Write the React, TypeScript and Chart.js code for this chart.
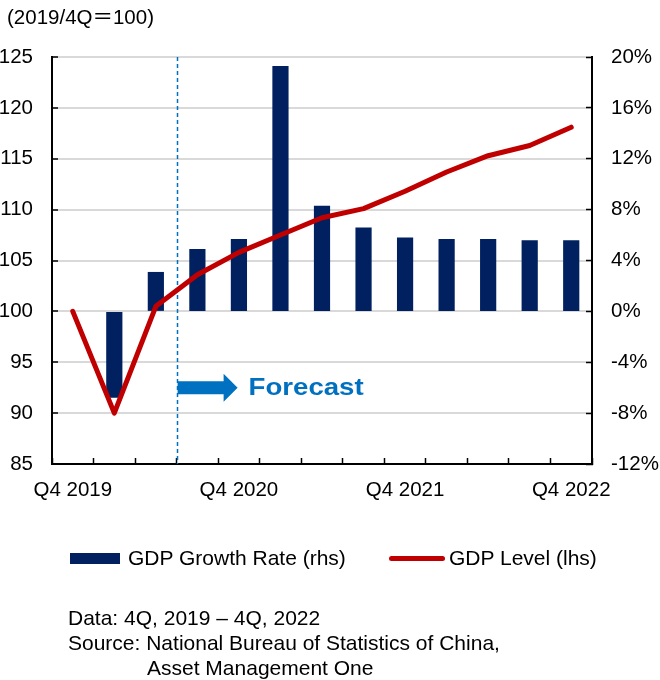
import React, { useEffect, useRef } from 'react';
import { Chart, registerables } from 'chart.js';

Chart.register(...registerables);

const categories = [
  'Q4 2019', 'Q1 2020', 'Q2 2020', 'Q3 2020', 'Q4 2020',
  'Q1 2021', 'Q2 2021', 'Q3 2021', 'Q4 2021',
  'Q1 2022', 'Q2 2022', 'Q3 2022', 'Q4 2022',
];
const xTickLabels = ['Q4 2019', 'Q4 2020', 'Q4 2021', 'Q4 2022'];
const growthRate = [null, -6.8, 3.1, 4.9, 5.7, 19.3, 8.3, 6.6, 5.8, 5.7, 5.7, 5.6, 5.6];
const gdpLevel = [100, 90, 100.5, 103.6, 105.8, 107.5, 109.2, 110.1, 111.8, 113.7, 115.3, 116.3, 118.1];
const leftAxisRange = [85, 125, 5];
const rightAxisRange = [-12, 20, 4];
const forecastStartIndex = 2.5; // boundary between Q2 2020 and Q3 2020
const forecastLabelLevel = 92.5;

const FONT = '"Liberation Sans", Arial, sans-serif';

const overlayPlugin = {
  id: 'overlay',
  beforeDatasetsDraw(chart: any) {
    const { ctx, chartArea } = chart;
    const xs = chart.scales.x;
    const x = Math.round((xs.getPixelForValue(Math.floor(forecastStartIndex)) + xs.getPixelForValue(Math.ceil(forecastStartIndex))) / 2) + 0.5;
    ctx.save();
    ctx.strokeStyle = '#0070c0';
    ctx.lineWidth = 1.5;
    ctx.setLineDash([4, 3]);
    ctx.beginPath();
    ctx.moveTo(x, chartArea.top);
    ctx.lineTo(x, chartArea.bottom);
    ctx.stroke();
    ctx.restore();
  },
  afterDatasetsDraw(chart: any) {
    const { ctx } = chart;
    const xs = chart.scales.x;
    const ys = chart.scales.y;
    const x0 = (xs.getPixelForValue(Math.floor(forecastStartIndex)) + xs.getPixelForValue(Math.ceil(forecastStartIndex))) / 2 + 1;
    const y = ys.getPixelForValue(forecastLabelLevel);
    ctx.save();
    ctx.fillStyle = '#0070c0';
    ctx.beginPath();
    ctx.moveTo(x0, y - 6.5);
    ctx.lineTo(x0 + 46, y - 6.5);
    ctx.lineTo(x0 + 46, y - 14);
    ctx.lineTo(x0 + 60, y);
    ctx.lineTo(x0 + 46, y + 14);
    ctx.lineTo(x0 + 46, y + 6.5);
    ctx.lineTo(x0, y + 6.5);
    ctx.closePath();
    ctx.fill();
    ctx.translate(x0 + 71, y);
    ctx.scale(1.15, 1);
    ctx.font = `bold 24px ${FONT}`;
    ctx.textBaseline = 'middle';
    ctx.textAlign = 'left';
    ctx.fillText('Forecast', 0, 1);
    ctx.restore();
  },
};

export default function App() {
  const ref = useRef<HTMLCanvasElement>(null);

  useEffect(() => {
    if (!ref.current) return;
    const chart = new Chart(ref.current, {
      type: 'bar',
      data: {
        labels: categories,
        datasets: [
          {
            type: 'line',
            label: 'GDP Level (lhs)',
            data: gdpLevel,
            yAxisID: 'y',
            borderColor: '#c00000',
            backgroundColor: '#c00000',
            borderWidth: 5,
            pointRadius: 0,
            tension: 0,
            borderCapStyle: 'round',
            borderJoinStyle: 'round',
            order: 0,
          } as any,
          {
            type: 'bar',
            label: 'GDP Growth Rate (rhs)',
            data: growthRate,
            yAxisID: 'y1',
            backgroundColor: '#002060',
            borderWidth: 0,
            barPercentage: 0.39,
            categoryPercentage: 1,
            order: 1,
          } as any,
        ],
      },
      options: {
        animation: false,
        responsive: false,
        maintainAspectRatio: false,
        layout: { padding: { left: 0, right: 0, top: 57, bottom: 0 } },
        plugins: { legend: { display: false }, tooltip: { enabled: false } },
        scales: {
          x: {
            offset: true,
            grid: {
              display: true,
              offset: true,
              drawOnChartArea: false,
              drawTicks: true,
              tickLength: -6,
              tickColor: '#000',
              tickWidth: 1.5,
            },
            border: { display: true, color: '#000', width: 2 },
            ticks: {
              autoSkip: false,
              maxRotation: 0,
              minRotation: 0,
              padding: 20,
              color: '#000',
              font: { family: FONT, size: 20.5 },
              callback: (v: any, i: number) => (xTickLabels.includes(categories[i]) ? categories[i] : ''),
            },
            afterFit: (s: any) => { s.height = 216; },
          },
          y: {
            position: 'left',
            min: leftAxisRange[0],
            max: leftAxisRange[1],
            grid: {
              color: '#d9d9d9',
              lineWidth: 2,
              drawTicks: true,
              tickLength: -6,
              tickColor: '#000',
              tickWidth: 1.5,
            },
            border: { display: true, color: '#000', width: 2 },
            ticks: {
              stepSize: leftAxisRange[2],
              padding: 25,
              color: '#000',
              font: { family: FONT, size: 20.5 },
            },
            afterFit: (s: any) => { s.width = 52; },
          },
          y1: {
            position: 'right',
            min: rightAxisRange[0],
            max: rightAxisRange[1],
            grid: {
              drawOnChartArea: false,
              drawTicks: true,
              tickLength: -6,
              tickColor: '#000',
              tickWidth: 1.5,
            },
            border: { display: true, color: '#000', width: 2 },
            ticks: {
              stepSize: rightAxisRange[2],
              padding: 25,
              color: '#000',
              font: { family: FONT, size: 20.5 },
              callback: (v: any) => `${v}%`,
            },
            afterFit: (s: any) => { s.width = 68; },
          },
        },
      } as any,
      plugins: [overlayPlugin],
    });
    return () => chart.destroy();
  }, []);

  const text: React.CSSProperties = {
    position: 'absolute',
    fontFamily: FONT,
    fontSize: 21,
    lineHeight: '24px',
    color: '#000',
    whiteSpace: 'nowrap',
  };

  return (
    <div style={{ position: 'absolute', left: 0, top: 0, width: 660, height: 680, background: '#fff', overflow: 'hidden' }}>
      <canvas ref={ref} width={660} height={680} style={{ position: 'absolute', left: 0, top: 0, width: 660, height: 680, display: 'block' }} />
      <div style={{ ...text, left: 7, top: 5, fontSize: 20.5, fontFamily: '"Liberation Sans", "Noto Sans CJK JP", Arial, sans-serif' }}>(2019/4Q＝100)</div>
      <div style={{ position: 'absolute', left: 70, top: 553, width: 50, height: 11, background: '#002060' }} />
      <div style={{ ...text, left: 128, top: 546 }}>GDP Growth Rate (rhs)</div>
      <div style={{ position: 'absolute', left: 389, top: 555.5, width: 56, height: 5, borderRadius: 3, background: '#c00000' }} />
      <div style={{ ...text, left: 449, top: 546 }}>GDP Level (lhs)</div>
      <div style={{ ...text, left: 68, top: 606 }}>Data: 4Q, 2019 – 4Q, 2022</div>
      <div style={{ ...text, left: 68, top: 631 }}>Source: National Bureau of Statistics of China,</div>
      <div style={{ ...text, left: 147, top: 656 }}>Asset Management One</div>
    </div>
  );
}
